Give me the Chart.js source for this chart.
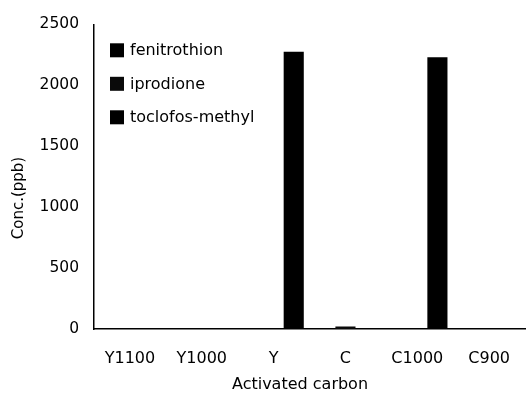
<!DOCTYPE html>
<html>
<head>
<meta charset="utf-8">
<script src="https://cdn.jsdelivr.net/npm/chart.js@4"></script>
<style>
  html, body { margin: 0; padding: 0; background: #fff; }
  #wrap { width: 530px; height: 398px; position: relative; }
</style>
</head>
<body>
<div id="wrap"><canvas id="c"></canvas></div>
<script>
// Residual pesticide concentration after treatment with each activated carbon
const categories = ['Y1100', 'Y1000', 'Y', 'C', 'C1000', 'C900'];
const fenitrothion = [0, 0, 0, 0, 0, 0];
const iprodione = [0, 0, 0, 20, 0, 0];
const toclofosMethyl = [0, 0, 2275, 0, 2230, 0];
const yTicks = [0, 500, 1000, 1500, 2000, 2500];

const FONT = '"DejaVu Sans", "Liberation Sans", Arial, sans-serif';

// Legend drawn inside the plot area, plus the two axis titles
const annotations = {
  id: 'annotations',
  afterDraw(chart) {
    const ctx = chart.ctx;
    const area = chart.chartArea;
    ctx.save();
    ctx.fillStyle = '#000';
    ctx.textBaseline = 'middle';
    ctx.font = '16px ' + FONT;
    chart.data.datasets.forEach((ds, i) => {
      const cy = area.top + 26 + i * 33.5;
      ctx.fillStyle = ds.backgroundColor;
      ctx.fillRect(area.left + 16, cy - 7, 14, 14);
      ctx.fillStyle = '#000';
      ctx.textAlign = 'left';
      ctx.fillText(ds.label, area.left + 36, cy + 1);
    });

    // y-axis title
    ctx.font = '15px ' + FONT;
    ctx.textAlign = 'center';
    ctx.translate(19, 198);
    ctx.rotate(-Math.PI / 2);
    ctx.fillText('Conc.(ppb)', 0, 0);
    ctx.restore();

    // x-axis title
    ctx.save();
    ctx.font = '16px ' + FONT;
    ctx.fillStyle = '#000';
    ctx.textAlign = 'center';
    ctx.textBaseline = 'middle';
    ctx.fillText('Activated carbon', 300, 385);
    ctx.restore();
  }
};

new Chart(document.getElementById('c'), {
  type: 'bar',
  data: {
    labels: categories,
    datasets: [
      { label: 'fenitrothion', data: fenitrothion, backgroundColor: '#000' },
      { label: 'iprodione', data: iprodione, backgroundColor: '#0a0a0a' },
      { label: 'toclofos-methyl', data: toclofosMethyl, backgroundColor: '#000' }
    ]
  },
  options: {
    responsive: true,
    maintainAspectRatio: false,
    animation: false,
    devicePixelRatio: 1,
    layout: { padding: { top: 17, right: 0, left: 0, bottom: 0 } },
    datasets: { bar: { categoryPercentage: 0.84, barPercentage: 1.0 } },
    plugins: { legend: { display: false }, tooltip: { enabled: false } },
    scales: {
      x: {
        grid: { display: false, drawTicks: false },
        border: { display: true, color: '#000', width: 1.5 },
        ticks: { color: '#000', font: { family: FONT, size: 16 }, padding: 20, maxRotation: 0, autoSkip: false },
        afterFit(scale) { scale.height = 69; }
      },
      y: {
        min: 0,
        max: 2500,
        afterBuildTicks(scale) { scale.ticks = yTicks.map(v => ({ value: v })); },
        grid: { display: false, drawTicks: false },
        border: { display: true, color: '#000', width: 1.5 },
        ticks: {
          color: '#000',
          font: { family: FONT, size: 15.5 },
          padding: 15,
          callback: (v) => String(v)
        },
        afterFit(scale) { scale.width = 94; }
      }
    }
  },
  plugins: [annotations]
});
</script>
</body>
</html>
